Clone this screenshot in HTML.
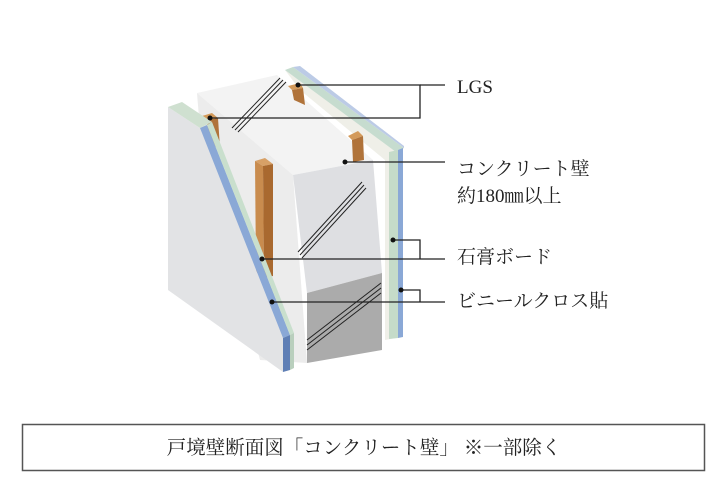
<!DOCTYPE html>
<html><head><meta charset="utf-8"><style>
html,body{margin:0;padding:0;background:#fff;width:726px;height:498px;overflow:hidden}
svg{display:block}
text{font-family:"Liberation Serif","Noto Serif CJK SC","Noto Sans CJK JP",serif;fill:#222}
</style></head><body>
<svg width="726" height="498" viewBox="0 0 726 498">
<polygon points="285,70 396,150 396,338 385,340 385,160 300,90" fill="#efefe8"/>
<polygon points="285,70 293,67 404,148 396,152" fill="#c6dccf"/>
<polygon points="293,67 300,66 404,146 404,148" fill="#bccbe6"/>
<polygon points="389,152 398,150 398,338 389,339" fill="#c5dbc9"/>
<polygon points="398,150 403,148 403,337 398,338" fill="#8aa8d6"/>
<polygon points="197,93 277,75 373,160 293,175" fill="#f3f3f3"/>
<polygon points="197,93 293,175 307,363 260,360 200,130" fill="#ececec"/>
<polygon points="293,175 373,160 382,273 307,293" fill="#dedfe2"/>
<polygon points="307,293 382,273 382,350 307,363" fill="#ababab"/>
<g stroke="#222" stroke-width="1">
<line x1="232" y1="128" x2="280" y2="78"/><line x1="235" y1="130" x2="283" y2="80"/><line x1="238" y1="132" x2="286" y2="82"/>
<line x1="298" y1="252" x2="362" y2="182"/><line x1="300" y1="255" x2="364" y2="185"/><line x1="302" y1="258" x2="366" y2="188"/>
<line x1="307" y1="340" x2="381" y2="283"/><line x1="307" y1="345" x2="381" y2="288"/><line x1="307" y1="350" x2="381" y2="293"/>
</g>
<polygon points="288,86 300,83 303,88 292,90" fill="#d39a5a"/>
<polygon points="292,90 303,88 305,105 294,100" fill="#b0733a"/>
<polygon points="348,136 358,131 363,136 352,140" fill="#d39a5a"/>
<polygon points="352,140 363,136 364,160 353,162" fill="#b0733a"/>
<polygon points="202,116 212,113 218,118 207,120" fill="#d39a5a"/>
<polygon points="207,120 218,118 220,148 209,145" fill="#b0733a"/>
<polygon points="255,161 265,158 273,164 263,166" fill="#d7a066"/>
<polygon points="255,161 263,166 264,278 256,272" fill="#c98c4e"/>
<polygon points="263,166 273,164 273,276 264,278" fill="#a9692f"/>
<polygon points="168,107 200,128 283,338 283,372 168,290" fill="#e2e3e5"/>
<polygon points="168,107 182,102 212,122 200,128" fill="#cfe0d0"/>
<polygon points="200,128 207,125 290,335 283,338" fill="#8aa8d6"/>
<polygon points="207,125 212,122 294,333 290,335" fill="#c9dfcd"/>
<polygon points="283,338 290,335 290,370 283,372" fill="#5f7fb5"/>
<polygon points="290,335 294,333 294,368 290,370" fill="#b9cfbd"/>
<g stroke="#222" stroke-width="1.3" fill="none">
<polyline points="298,85 420,85 420,118 210,118"/>
<line x1="420" y1="85" x2="445" y2="85"/>
<line x1="345" y1="162" x2="445" y2="162"/>
<polyline points="393,240 420,240 420,259"/>
<line x1="262" y1="259" x2="445" y2="259"/>
<polyline points="401,290 420,290 420,302"/>
<line x1="272" y1="302" x2="445" y2="302"/>
</g>
<g fill="#111">
<circle cx="298" cy="85" r="2.5"/><circle cx="210" cy="118" r="2.5"/><circle cx="345" cy="162" r="2.5"/>
<circle cx="393" cy="240" r="2.5"/><circle cx="262" cy="259" r="2.5"/><circle cx="401" cy="290" r="2.5"/><circle cx="272" cy="302" r="2.5"/>
</g>
<g font-size="19">
<text x="457" y="93">LGS</text>
<text x="457" y="175">コンクリート壁</text>
<text x="457" y="202">約180㎜以上</text>
<text x="457" y="263">石膏ボード</text>
<text x="457" y="307">ビニールクロス貼</text>
</g>
<rect x="22.5" y="424.5" width="682" height="46" fill="none" stroke="#555" stroke-width="1.5"/>
<text x="364" y="454" font-size="19.5" text-anchor="middle">戸境壁断面図「コンクリート壁」 ※一部除く</text>
</svg>
</body></html>
